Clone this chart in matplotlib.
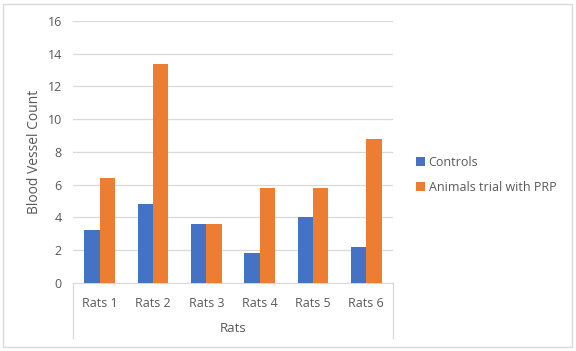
import numpy as np
import matplotlib
matplotlib.use('Agg')
import matplotlib.pyplot as plt
from matplotlib.patches import Rectangle
from matplotlib.lines import Line2D

categories = ['Rats 1', 'Rats 2', 'Rats 3', 'Rats 4', 'Rats 5', 'Rats 6']
controls = [3.2, 4.8, 3.6, 1.8, 4.0, 2.2]
prp = [6.4, 13.4, 3.6, 5.8, 5.8, 8.8]
yticks = [0, 2, 4, 6, 8, 10, 12, 14, 16]

plt.rcParams['font.family'] = ['Open Sans', 'DejaVu Sans']
text_color = '#595959'

fig = plt.figure(figsize=(5.76, 3.51), dpi=100)
ax = fig.add_axes([0.1267, 0.1946, 0.5556, 0.7456])

x = np.arange(len(categories))
w = 0.287
ax.bar(x - w / 2, controls, w, color='#4472C4', label='Controls', zorder=3)
ax.bar(x + w / 2, prp, w, color='#ED7D31', label='Animals trial with PRP', zorder=3)

ax.set_xlim(-0.5, len(categories) - 0.5)
ax.set_ylim(0, 16)
ax.set_yticks(yticks)
ax.set_yticklabels([str(t) for t in yticks], color=text_color, fontsize=9)
ax.set_xticks(x)
ax.set_xticklabels(categories, color=text_color, fontsize=9)
ax.tick_params(axis='both', length=0)
ax.tick_params(axis='x', pad=10)
ax.tick_params(axis='y', pad=8)
ax.grid(axis='y', color='#D9D9D9', linewidth=0.9, zorder=0)
for s in ['top', 'right', 'left']:
    ax.spines[s].set_visible(False)
ax.spines['bottom'].set_color('#D9D9D9')

ax.set_ylabel('Blood Vessel Count', color=text_color, fontsize=10, labelpad=4)

# category box below axis
for xx in [0, 1]:
    ax.add_line(Line2D([xx, xx], [0, -0.21], transform=ax.transAxes,
                       color='#D9D9D9', linewidth=0.9, clip_on=False))
ax.text(0.5, -0.175, 'Rats', transform=ax.transAxes, ha='center', va='center',
        color=text_color, fontsize=9.5)

leg = fig.legend(loc='center left', bbox_to_anchor=(0.703, 0.502), frameon=False,
                 fontsize=9, handlelength=0.7, handleheight=0.7, handletextpad=0.3,
                 labelspacing=0.95)
for t in leg.get_texts():
    t.set_color(text_color)

fig.patches.append(Rectangle((0.005, 0.012), 0.988, 0.978, transform=fig.transFigure,
                             fill=False, edgecolor='#D9D9D9', linewidth=1))

fig.savefig('out.png', dpi=100)
